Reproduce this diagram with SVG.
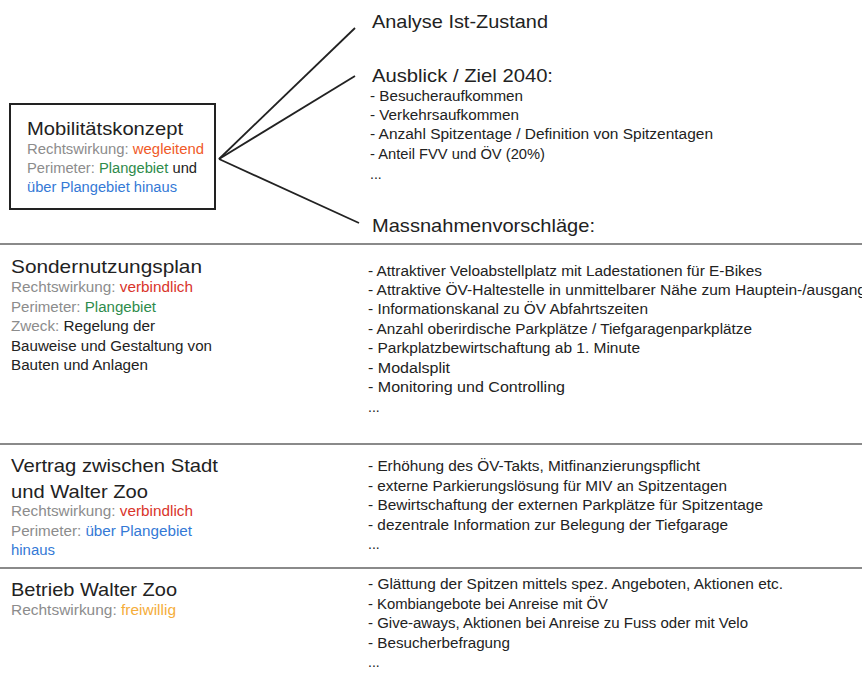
<svg xmlns="http://www.w3.org/2000/svg" width="862" height="675" viewBox="0 0 862 675">
<style>
text{font-family:"Liberation Sans","Open Sans",Arial,sans-serif;fill:#222}
.h{font-size:19px}
.s{font-size:14px}
.g{fill:#8c8c8c}
.or{fill:#f05a28}
.rd{fill:#d9342b}
.gr{fill:#2e8b4b}
.bl{fill:#3479d6}
.yl{fill:#f5ad3a}
.sep{stroke:#8a8a8a;stroke-width:2}
.con{stroke:#222;stroke-width:1.8;fill:none}
</style>
<rect width="862" height="675" fill="#fff"/>
<g id="separators">
<line class="sep" x1="0" y1="244" x2="862" y2="244"/>
<line class="sep" x1="0" y1="444" x2="862" y2="444"/>
<line class="sep" x1="0" y1="568" x2="862" y2="568"/>
</g>
<g id="connectors">
<path class="con" d="M219,159 L355,28"/>
<path class="con" d="M219,159 L355,76"/>
<path class="con" d="M219,159 L359,223"/>
</g>
<g id="mobilitaetskonzept">
<rect x="10" y="104" width="205" height="105" fill="none" stroke="#222" stroke-width="2"/>
<text class="h" x="27" y="135" textLength="156" lengthAdjust="spacingAndGlyphs">Mobilitätskonzept</text>
<text class="s" x="27" y="154" textLength="177" lengthAdjust="spacingAndGlyphs"><tspan class="g">Rechtswirkung: </tspan><tspan class="or">wegleitend</tspan></text>
<text class="s" x="27" y="173" textLength="170" lengthAdjust="spacingAndGlyphs"><tspan class="g">Perimeter: </tspan><tspan class="gr">Plangebiet</tspan> und</text>
<text class="s bl" x="27" y="192" textLength="150" lengthAdjust="spacingAndGlyphs">über Plangebiet hinaus</text>
</g>
<g id="analyse">
<text class="h" x="372" y="28" textLength="176" lengthAdjust="spacingAndGlyphs">Analyse Ist-Zustand</text>
</g>
<g id="ausblick">
<text class="h" x="372" y="82" textLength="181" lengthAdjust="spacingAndGlyphs">Ausblick / Ziel 2040:</text>
<text class="s" x="370" y="101" textLength="153" lengthAdjust="spacingAndGlyphs">- Besucheraufkommen</text>
<text class="s" x="370" y="120" textLength="149" lengthAdjust="spacingAndGlyphs">- Verkehrsaufkommen</text>
<text class="s" x="370" y="139" textLength="343" lengthAdjust="spacingAndGlyphs">- Anzahl Spitzentage / Definition von Spitzentagen</text>
<text class="s" x="370" y="159" textLength="175" lengthAdjust="spacingAndGlyphs">- Anteil FVV und ÖV (20%)</text>
<text class="s" x="370" y="179">...</text>
</g>
<g id="massnahmen">
<text class="h" x="372" y="232" textLength="223" lengthAdjust="spacingAndGlyphs">Massnahmenvorschläge:</text>
</g>
<g id="sondernutzungsplan">
<text class="h" x="11" y="273" textLength="191" lengthAdjust="spacingAndGlyphs">Sondernutzungsplan</text>
<text class="s" x="11" y="292" textLength="182" lengthAdjust="spacingAndGlyphs"><tspan class="g">Rechtswirkung: </tspan><tspan class="rd">verbindlich</tspan></text>
<text class="s" x="11" y="312" textLength="145" lengthAdjust="spacingAndGlyphs"><tspan class="g">Perimeter: </tspan><tspan class="gr">Plangebiet</tspan></text>
<text class="s" x="11" y="331" textLength="144" lengthAdjust="spacingAndGlyphs"><tspan class="g">Zweck:  </tspan>Regelung der</text>
<text class="s" x="11" y="351" textLength="201" lengthAdjust="spacingAndGlyphs">Bauweise und Gestaltung von</text>
<text class="s" x="11" y="370" textLength="137" lengthAdjust="spacingAndGlyphs">Bauten und Anlagen</text>
</g>
<g id="sondernutzungsplan-massnahmen">
<text class="s" x="368" y="276" textLength="394" lengthAdjust="spacingAndGlyphs">- Attraktiver Veloabstellplatz mit Ladestationen für E-Bikes</text>
<text class="s" x="368" y="295" textLength="498" lengthAdjust="spacingAndGlyphs">- Attraktive ÖV-Haltestelle in unmittelbarer Nähe zum Hauptein-/ausgang</text>
<text class="s" x="368" y="314" textLength="280" lengthAdjust="spacingAndGlyphs">- Informationskanal zu ÖV Abfahrtszeiten</text>
<text class="s" x="368" y="334" textLength="384" lengthAdjust="spacingAndGlyphs">- Anzahl oberirdische Parkplätze / Tiefgaragenparkplätze</text>
<text class="s" x="368" y="353" textLength="272" lengthAdjust="spacingAndGlyphs">- Parkplatzbewirtschaftung ab 1. Minute</text>
<text class="s" x="368" y="373" textLength="82" lengthAdjust="spacingAndGlyphs">- Modalsplit</text>
<text class="s" x="368" y="392" textLength="197" lengthAdjust="spacingAndGlyphs">- Monitoring und Controlling</text>
<text class="s" x="368" y="412">...</text>
</g>
<g id="vertrag">
<text class="h" x="11" y="472" textLength="207" lengthAdjust="spacingAndGlyphs">Vertrag zwischen Stadt</text>
<text class="h" x="11" y="498" textLength="137" lengthAdjust="spacingAndGlyphs">und Walter Zoo</text>
<text class="s" x="11" y="516" textLength="182" lengthAdjust="spacingAndGlyphs"><tspan class="g">Rechtswirkung: </tspan><tspan class="rd">verbindlich</tspan></text>
<text class="s" x="11" y="536" textLength="181" lengthAdjust="spacingAndGlyphs"><tspan class="g">Perimeter: </tspan><tspan class="bl">über Plangebiet</tspan></text>
<text class="s bl" x="11" y="555" textLength="44" lengthAdjust="spacingAndGlyphs">hinaus</text>
</g>
<g id="vertrag-massnahmen">
<text class="s" x="368" y="471" textLength="332" lengthAdjust="spacingAndGlyphs">- Erhöhung des ÖV-Takts, Mitfinanzierungspflicht</text>
<text class="s" x="368" y="491" textLength="359" lengthAdjust="spacingAndGlyphs">- externe Parkierungslösung für MIV an Spitzentagen</text>
<text class="s" x="368" y="510" textLength="395" lengthAdjust="spacingAndGlyphs">- Bewirtschaftung der externen Parkplätze für Spitzentage</text>
<text class="s" x="368" y="530" textLength="360" lengthAdjust="spacingAndGlyphs">- dezentrale Information zur Belegung der Tiefgarage</text>
<text class="s" x="368" y="549">...</text>
</g>
<g id="betrieb">
<text class="h" x="11" y="596" textLength="166" lengthAdjust="spacingAndGlyphs">Betrieb Walter Zoo</text>
<text class="s" x="11" y="615" textLength="165" lengthAdjust="spacingAndGlyphs"><tspan class="g">Rechtswirkung: </tspan><tspan class="yl">freiwillig</tspan></text>
</g>
<g id="betrieb-massnahmen">
<text class="s" x="368" y="589" textLength="415" lengthAdjust="spacingAndGlyphs">- Glättung der Spitzen mittels spez. Angeboten, Aktionen etc.</text>
<text class="s" x="368" y="609" textLength="240" lengthAdjust="spacingAndGlyphs">- Kombiangebote bei Anreise mit ÖV</text>
<text class="s" x="368" y="628" textLength="380" lengthAdjust="spacingAndGlyphs">- Give-aways, Aktionen bei Anreise zu Fuss oder mit Velo</text>
<text class="s" x="368" y="648" textLength="142" lengthAdjust="spacingAndGlyphs">- Besucherbefragung</text>
<text class="s" x="368" y="667">...</text>
</g>
</svg>
